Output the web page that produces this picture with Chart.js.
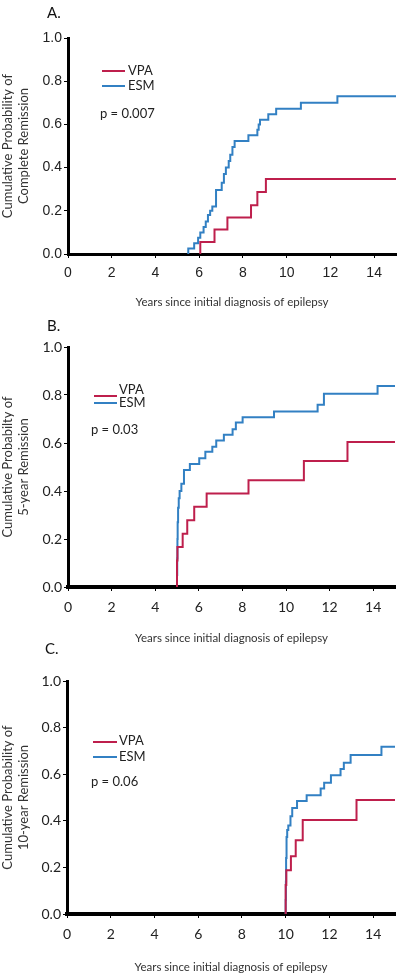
<!DOCTYPE html>
<html>
<head>
<meta charset="utf-8">
<script src="https://cdn.jsdelivr.net/npm/chart.js@4.4.1/dist/chart.umd.min.js"></script>
<style>
  html, body { margin: 0; padding: 0; background: #fff; }
  #page { position: relative; width: 400px; height: 976px; overflow: hidden; }
  .panel { position: absolute; left: 0; width: 400px; }
  .panel canvas { display: block; }
  .tag { position: absolute; font: 15px Lato, sans-serif; color: #111; line-height: 18px; }
</style>
</head>
<body>
<div id="page">
  <div class="panel" style="top:0px"><canvas id="chart-a" width="400" height="315"></canvas></div>
  <div class="panel" style="top:318px"><canvas id="chart-b" width="400" height="327"></canvas></div>
  <div class="panel" style="top:645px"><canvas id="chart-c" width="400" height="331"></canvas></div>
  <div class="tag" style="left:47px; top:3px">A.</div>
  <div class="tag" style="left:47px; top:316px">B.</div>
  <div class="tag" style="left:45px; top:639px">C.</div>
</div>
<script>
const VPA_COLOR = "#be1f4c";
const ESM_COLOR = "#3280c3";
const FOLLOW_UP_END = 15;
const X_TITLE = "Years since initial diagnosis of epilepsy";

// A. complete remission
const vpaA_years = [6.05, 6.7, 7.29, 8.37, 8.66, 9.05];
const vpaA_prob = [0.056, 0.113, 0.169, 0.226, 0.287, 0.347];
const esmA_years = [5.5, 5.77, 5.95, 6.05, 6.2, 6.3, 6.4, 6.5, 6.6, 6.77, 7.03, 7.13, 7.22, 7.35, 7.42, 7.52, 7.62, 8.25, 8.66, 8.72, 8.78, 9.16, 9.52, 10.65, 12.32];
const esmA_prob = [0.025, 0.05, 0.075, 0.1, 0.125, 0.15, 0.18, 0.2, 0.22, 0.296, 0.33, 0.37, 0.4, 0.43, 0.46, 0.495, 0.523, 0.55, 0.575, 0.6, 0.622, 0.647, 0.673, 0.7, 0.73];

// B. 5-year remission
const vpaB_years = [5.0, 5.02, 5.26, 5.47, 5.79, 6.36, 8.28, 10.82, 12.82];
const vpaB_prob = [0.11, 0.167, 0.222, 0.278, 0.334, 0.39, 0.445, 0.525, 0.604];
const esmB_years = [5.0, 5.01, 5.02, 5.03, 5.05, 5.08, 5.12, 5.2, 5.32, 5.59, 6.02, 6.3, 6.62, 6.8, 7.15, 7.55, 7.7, 8.01, 9.45, 11.45, 11.74, 14.2];
const esmB_prob = [0.05, 0.12, 0.2, 0.27, 0.33, 0.37, 0.4, 0.43, 0.487, 0.512, 0.536, 0.564, 0.584, 0.61, 0.634, 0.657, 0.685, 0.707, 0.731, 0.759, 0.805, 0.838];

// C. 10-year remission
const vpaC_years = [10.0, 10.03, 10.24, 10.46, 10.78, 13.24];
const vpaC_prob = [0.125, 0.188, 0.248, 0.317, 0.403, 0.489];
const esmC_years = [10.0, 10.01, 10.02, 10.04, 10.07, 10.12, 10.22, 10.3, 10.52, 10.96, 11.6, 11.76, 12.07, 12.51, 12.66, 12.97, 14.38];
const esmC_prob = [0.06, 0.14, 0.24, 0.33, 0.36, 0.38, 0.42, 0.455, 0.485, 0.51, 0.539, 0.563, 0.596, 0.622, 0.649, 0.682, 0.718];

function kmPoints(years, prob) {
  const pts = [{ x: years[0], y: 0 }];
  years.forEach((t, i) => pts.push({ x: t, y: prob[i] }));
  pts.push({ x: FOLLOW_UP_END, y: prob[prob.length - 1] });
  return pts;
}

// legend + p value drawn inside the plot, like the original figure
const inlineLegend = {
  id: "inlineLegend",
  afterDraw(chart, args, opts) {
    const ctx = chart.ctx;
    ctx.save();
    ctx.font = opts.font;
    ctx.textBaseline = "middle";
    ctx.fillStyle = "#222";
    chart.data.datasets.forEach((ds, i) => {
      const row = opts.rows[i];
      ctx.strokeStyle = ds.borderColor;
      ctx.lineWidth = 2;
      ctx.beginPath();
      ctx.moveTo(opts.x0, row.line);
      ctx.lineTo(opts.x1, row.line);
      ctx.stroke();
      ctx.fillText(ds.label, opts.textX, row.text);
    });
    ctx.fillText(opts.pText, opts.pX, opts.pY);
    ctx.restore();
  },
};

function makeKM(id, cfg) {
  const datasets = [
    { label: "VPA", data: kmPoints(cfg.vpa[0], cfg.vpa[1]), borderColor: VPA_COLOR },
    { label: "ESM", data: kmPoints(cfg.esm[0], cfg.esm[1]), borderColor: ESM_COLOR },
  ].map((d) => ({ ...d, stepped: "before", borderWidth: 2, pointRadius: 0, fill: false }));

  return new Chart(document.getElementById(id), {
    type: "line",
    data: { datasets },
    plugins: [inlineLegend],
    options: {
      responsive: false,
      animation: false,
      layout: { padding: { left: 0, right: cfg.padRight, top: cfg.padTop, bottom: 0 } },
      plugins: {
        legend: { display: false },
        tooltip: { enabled: false },
        inlineLegend: cfg.legend,
      },
      scales: {
        x: {
          type: "linear",
          min: 0,
          max: FOLLOW_UP_END,
          border: { color: "#000", width: cfg.xBorder },
          grid: { drawOnChartArea: false, drawTicks: true, tickLength: 4, color: "#000" },
          ticks: { stepSize: 2, includeBounds: false, padding: cfg.xTickPad, color: "#222", maxRotation: 0, font: { family: cfg.tickFont, size: 14 } },
          title: { display: true, text: X_TITLE, color: "#333", font: { family: "Lato", size: 11.5 }, padding: { top: 0, bottom: cfg.xTitlePad } },
          afterFit: (s) => { s.height = cfg.xHeight; },
        },
        y: {
          min: 0,
          max: 1,
          border: { color: "#000", width: 3 },
          grid: { drawOnChartArea: false, drawTicks: true, tickLength: 4, color: "#000" },
          ticks: { stepSize: 0.2, padding: 2, color: "#222", font: { family: cfg.tickFont, size: 14 }, callback: (v) => v.toFixed(1) },
          title: { display: true, text: cfg.yTitle, color: "#333", font: { family: "Lato", size: 13 }, padding: { top: 0, bottom: 0 } },
          afterFit: (s) => { s.width = cfg.left; },
        },
      },
    },
  });
}

makeKM("chart-a", {
  vpa: [vpaA_years, vpaA_prob],
  esm: [esmA_years, esmA_prob],
  yTitle: ["Cumulative Probability of", "Complete Remission"],
  tickFont: "Liberation Sans",
  left: 68, padRight: 4, padTop: 38, xHeight: 61, xBorder: 3, xTickPad: 7, xTitlePad: 6,
  legend: { font: "13px Lato", x0: 102, x1: 125, textX: 128, rows: [{ line: 71, text: 71 }, { line: 86, text: 86 }], pText: "p = 0.007", pX: 100, pY: 114 },
});

makeKM("chart-b", {
  vpa: [vpaB_years, vpaB_prob],
  esm: [esmB_years, esmB_prob],
  yTitle: ["Cumulative Probabilty of", "5-year Remission"],
  tickFont: "Lato",
  left: 68, padRight: 5, padTop: 29, xHeight: 58, xBorder: 4, xTickPad: 8, xTitlePad: 0,
  legend: { font: "13px Lato", x0: 94, x1: 117, textX: 119, rows: [{ line: 78, text: 72 }, { line: 85, text: 85 }], pText: "p = 0.03", pX: 91, pY: 112 },
});

makeKM("chart-c", {
  vpa: [vpaC_years, vpaC_prob],
  esm: [esmC_years, esmC_prob],
  yTitle: ["Cumulative Probability of", "10-year Remission"],
  tickFont: "Lato",
  left: 67, padRight: 5, padTop: 36, xHeight: 62, xBorder: 4, xTickPad: 8, xTitlePad: 2,
  legend: { font: "13px Lato", x0: 93, x1: 117, textX: 119, rows: [{ line: 97, text: 96 }, { line: 112, text: 112 }], pText: "p = 0.06", pX: 91, pY: 137 },
});
</script>
</body>
</html>
